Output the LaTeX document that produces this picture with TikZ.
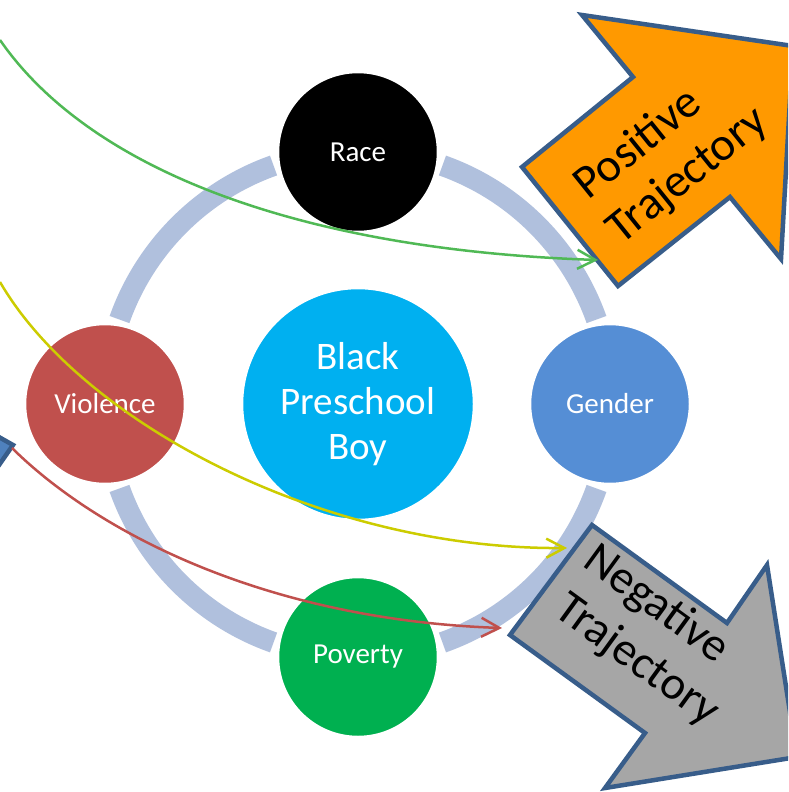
\documentclass[tikz,border=0pt]{standalone}
\usepackage{fontspec}
\setmainfont{Carlito}
\usetikzlibrary{arrows.meta}
\definecolor{ringc}{RGB}{176,192,221}
\definecolor{racec}{RGB}{0,0,0}
\definecolor{genderc}{RGB}{85,142,213}
\definecolor{violc}{RGB}{192,80,77}
\definecolor{povc}{RGB}{0,176,80}
\definecolor{boyc}{RGB}{0,176,240}
\definecolor{orangec}{RGB}{255,153,0}
\definecolor{greyc}{RGB}{166,166,166}
\definecolor{edgec}{RGB}{56,93,138}
\definecolor{bluec}{RGB}{79,129,189}
\definecolor{greenl}{RGB}{80,185,85}
\definecolor{yellowl}{RGB}{204,204,0}
\definecolor{redl}{RGB}{192,80,77}
\tikzset{
  ringarc/.style={draw=ringc,line width=21pt},
  bubble/.style={circle,draw=white,line width=2.5pt,minimum size=160pt,inner sep=0pt,text=white,font=\fontsize{29}{35}\selectfont},
  hub/.style={circle,draw=white,line width=2.5pt,minimum size=232pt,inner sep=0pt,text=white,align=center,font=\fontsize{39}{45}\selectfont},
  blockarrow/.style={draw=edgec,line width=4.5pt,line join=miter},
  arrowtext/.style={text=black,inner sep=0pt,font=\fontsize{47}{57}\selectfont},
  flow/.style={line width=2.5pt,-{Straight Barb[length=18pt,width=19pt,line width=2.5pt]}}
}
\begin{document}
\begin{tikzpicture}[x=1pt,y=-1pt]
\useasboundingbox (0,0) rectangle (788,792);
\clip (0,0) rectangle (788,792);
\fill[white] (0,0) rectangle (788,792);
\coordinate (c) at (358,404);
% ring segments
\draw[ringarc] (c) ++(-70.5:253) arc[start angle=-70.5,end angle=-19.5,radius=253];
\draw[ringarc] (c) ++(19.5:253) arc[start angle=19.5,end angle=70.5,radius=253];
\draw[ringarc] (c) ++(109.5:253) arc[start angle=109.5,end angle=160.5,radius=253];
\draw[ringarc] (c) ++(199.5:253) arc[start angle=199.5,end angle=250.5,radius=253];
% nodes
\node[hub,fill=boyc] (boy) at (c) {Black\\Preschool\\Boy};
\node[bubble,fill=racec] (race) at (358,152) {Race};
\node[bubble,fill=genderc] (gender) at (610,404) {Gender};
\node[bubble,fill=violc] (violence) at (105,404) {Violence};
\node[bubble,fill=povc] (poverty) at (358,657) {Poverty};
% block arrows
\draw[blockarrow,fill=orangec] (522,167) -- (633,77) -- (582,15) -- (793,46) -- (781,259) -- (730,197) -- (618,286) -- cycle;
\node[arrowtext,rotate=38.8] (pos1) at (636,142) {Positive};
\node[arrowtext,rotate=38.8] (pos2) at (688,176) {Trajectory};
\draw[blockarrow,fill=greyc] (510,635) -- (592,525) -- (727,623) -- (767,565) -- (797,757) -- (605,788) -- (645,733) -- cycle;
\node[arrowtext,rotate=-36] (neg1) at (656,605) {Negative};
\node[arrowtext,rotate=-36] (neg2) at (637,661) {Trajectory};
\draw[blockarrow,fill=bluec] (-10,432) -- (13,445) -- (-10,478) -- cycle;
% connectors
\coordinate (gs) at (0,40);
\coordinate (ge) at (598,260);
\coordinate (ys) at (0,282);
\coordinate (ye) at (567,548);
\coordinate (rs) at (12,448);
\coordinate (re) at (502,628);
\draw[flow,greenl] (gs) .. controls (90,170) and (300,250) .. (ge);
\draw[flow,yellowl] (ys) .. controls (80,420) and (320,550) .. (ye);
\draw[flow,redl] (rs) .. controls (100,535) and (270,620) .. (re);
\end{tikzpicture}
\end{document}
